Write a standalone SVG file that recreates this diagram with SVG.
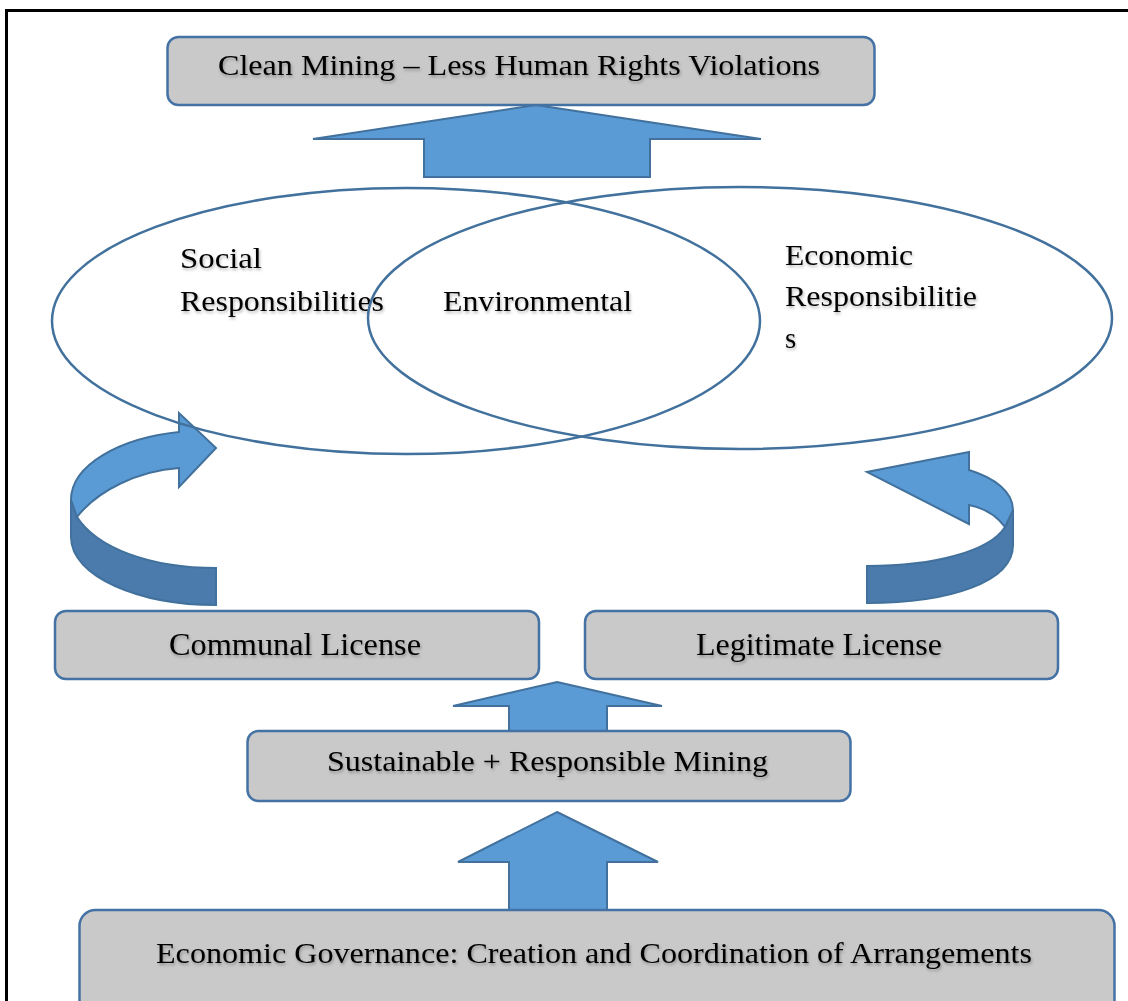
<svg xmlns="http://www.w3.org/2000/svg" width="1128" height="1001" viewBox="0 0 1128 1001">
  <defs>
    <filter id="soft" x="-5%" y="-30%" width="110%" height="160%">
      <feGaussianBlur in="SourceAlpha" stdDeviation="1.5" result="b"/>
      <feOffset in="b" dx="1" dy="1.5" result="o"/>
      <feFlood flood-color="#000" flood-opacity="0.3"/>
      <feComposite in2="o" operator="in" result="s"/>
      <feMerge><feMergeNode in="s"/><feMergeNode in="SourceGraphic"/></feMerge>
    </filter>
  </defs>
  <style>
    .box { fill: #c9c9c9; stroke: #4472a4; stroke-width: 2.5; }
    .ring { fill: none; stroke: #41719c; stroke-width: 2.5; }
    .blk { fill: #5b9bd5; stroke: #41719c; stroke-width: 2; stroke-linejoin: miter; }
    .dark { fill: #4a7bac; stroke: #41719c; stroke-width: 2; }
    .lbl { font-family: "Liberation Serif", "Times New Roman", serif; fill: #000; filter: url(#soft); }
  </style>

  <rect width="1128" height="1001" fill="#fff"/>
  <!-- page frame -->
  <path d="M6.5,1001 V10.5 H1128" fill="none" stroke="#000" stroke-width="3"/>

  <!-- connectors: block arrows and curved ribbons -->
  <g id="connectors">
    <polygon class="blk" points="536,105 761,139 650,139 650,177 424,177 424,139 313,139"/>
    <polygon class="blk" points="557,682 662,706 607,706 607,731 509,731 509,706 453,706"/>
    <polygon class="blk" points="557,812 658,862 607,862 607,910 509,910 509,862 458,862"/>
    <!-- left ribbon arrow -->
    <path class="dark" d="M71,500 L71,537 C71,577 140,605 216,605 L216,568 C150,568 97,548 77,517 Z"/>
    <path class="blk" d="M77,517 C98,490 138,471 179,468 L179,487 L216,448 L179,413 L179,432 C120,438 71,465 71,500 Z"/>
    <!-- right ribbon arrow -->
    <path class="dark" d="M1013,510 L1013,545 C1013,582 950,603 867,603 L867,566 C935,566 990,551 1005,527 Z"/>
    <path class="blk" d="M1005,527 C996,515 985,508 969,505 L969,524 L867,472 L969,452 L969,470 C995,478 1013,492 1013,510 Z"/>
  </g>

  <g id="node-clean-mining">
    <rect class="box" x="167.5" y="37" width="707" height="68" rx="11"/>
    <text class="lbl" x="218" y="75" font-size="30" textLength="602" lengthAdjust="spacingAndGlyphs">Clean Mining – Less Human Rights Violations</text>
  </g>

  <g id="node-social">
    <ellipse class="ring" cx="406" cy="321" rx="354" ry="133"/>
    <text class="lbl" x="180" y="268" font-size="29" textLength="82" lengthAdjust="spacingAndGlyphs">Social</text>
    <text class="lbl" x="180" y="311" font-size="29" textLength="204" lengthAdjust="spacingAndGlyphs">Responsibilities</text>
  </g>

  <g id="node-economic">
    <ellipse class="ring" cx="740" cy="318" rx="372" ry="131"/>
    <text class="lbl" x="785" y="265" font-size="29" textLength="128" lengthAdjust="spacingAndGlyphs">Economic</text>
    <text class="lbl" x="785" y="306" font-size="29" textLength="192" lengthAdjust="spacingAndGlyphs">Responsibilitie</text>
    <text class="lbl" x="785" y="348" font-size="29">s</text>
  </g>

  <g id="node-environmental">
    <text class="lbl" x="443" y="311" font-size="29" textLength="189" lengthAdjust="spacingAndGlyphs">Environmental</text>
  </g>

  <g id="node-communal">
    <rect class="box" x="55" y="611" width="484" height="68" rx="11"/>
    <text class="lbl" x="169" y="655" font-size="31" textLength="252" lengthAdjust="spacingAndGlyphs">Communal License</text>
  </g>

  <g id="node-legitimate">
    <rect class="box" x="585" y="611" width="473" height="68" rx="11"/>
    <text class="lbl" x="696" y="655" font-size="31" textLength="246" lengthAdjust="spacingAndGlyphs">Legitimate License</text>
  </g>

  <g id="node-sustainable">
    <rect class="box" x="247.5" y="731" width="603" height="70" rx="11"/>
    <text class="lbl" x="327" y="771" font-size="30" textLength="441" lengthAdjust="spacingAndGlyphs">Sustainable + Responsible Mining</text>
  </g>

  <g id="node-governance">
    <rect class="box" x="79.5" y="910" width="1035" height="110" rx="16"/>
    <text class="lbl" x="156" y="963" font-size="30" textLength="876" lengthAdjust="spacingAndGlyphs">Economic Governance: Creation and Coordination of Arrangements</text>
  </g>
</svg>
